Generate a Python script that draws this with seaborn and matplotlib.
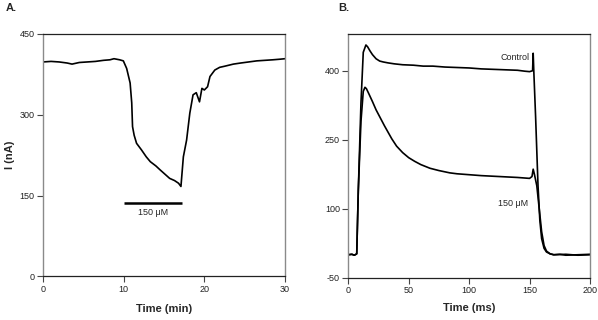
import numpy as np
import pandas as pd
import matplotlib
matplotlib.use("Agg")
import matplotlib.pyplot as plt
import seaborn as sns

# ---- Panel A data: current vs time (min)
time_min = [0, 1, 2, 3, 3.6, 4.5, 5.5, 6.5, 7.5, 8.3, 8.8, 9.5, 9.96, 10.37, 10.8,
            11.0, 11.1, 11.3, 11.6, 12.2, 12.8, 13.3, 14.0, 14.5, 15.1, 15.7, 16.3,
            16.8, 17.1, 17.4, 17.8, 18.2, 18.6, 19.0, 19.4, 19.7, 20.0, 20.4, 20.7,
            21.3, 21.9, 22.5, 23.6, 24.5, 25.5, 26.5, 27.5, 28.5, 29.3, 30]
current_nA = [398, 399, 398, 396, 394, 397, 398, 399, 401, 402, 404, 402, 400, 386, 359,
              322, 278, 262, 247, 235, 222, 213, 205, 198, 190, 182, 178,
              173, 167, 222, 253, 303, 337, 341, 324, 349, 346, 352, 371,
              383, 388, 390, 394, 396, 398, 400, 401, 402, 403, 404]
bar_start, bar_end, bar_level = 10.0, 17.2, 137
bar_label = "150 μM"

# ---- Panel B data: current vs time (ms)
time_ctrl = [0, 3, 5, 7, 8.3, 10.5, 12.4, 14.6, 16, 18, 20, 23, 26, 29, 33, 38, 45, 54,
             62, 70, 80, 90, 100, 110, 120, 130, 140, 146, 150, 152.5, 153, 153.5,
             155, 157, 158.5, 160, 162, 164, 167, 170, 175, 180, 190, 200]
curr_ctrl = [0, 1, -1, 2, 140, 330, 440, 456, 452, 443, 435, 426, 421, 419, 417, 415, 413, 412,
             410, 410, 408, 407, 406, 404, 403, 402, 401, 399, 398, 400, 438, 400,
             300, 150, 75, 35, 14, 6, 2, 0, 1, -1, 0, 1]
time_drug = [0, 3, 5, 7, 8.3, 10.5, 12.4, 13.8, 15, 17, 20, 23, 26.2, 30, 33, 36, 40, 45, 50,
             55, 60, 67.6, 75, 84, 90, 100, 110, 125, 140, 150, 152, 153, 154,
             156, 158, 160, 162, 164, 167, 170, 180, 190, 200]
curr_drug = [0, 1, -1, 2, 140, 290, 355, 364, 361, 350, 333, 315, 299, 280, 266, 252, 236, 222, 211,
             203, 196, 188, 183, 178, 176, 174, 172, 170, 168, 166, 170, 186, 175,
             150, 100, 50, 20, 8, 2, 0, 1, -1, 0]

dfA = pd.DataFrame({"t": time_min, "i": current_nA})
dfC = pd.DataFrame({"t": time_ctrl, "i": curr_ctrl})
dfD = pd.DataFrame({"t": time_drug, "i": curr_drug})

sns.set_theme(style="white")
plt.rcParams["font.family"] = ["Liberation Sans Narrow", "Liberation Sans", "DejaVu Sans"]
plt.rcParams["axes.unicode_minus"] = False

fig = plt.figure(figsize=(5.98, 3.2), dpi=100)
axA = fig.add_axes([0.0719, 0.136, 0.4047, 0.758])
axB = fig.add_axes([0.5824, 0.132, 0.4042, 0.762])

sns.lineplot(data=dfA, x="t", y="i", ax=axA, color="black", lw=1.2,
             estimator=None, sort=False)
axA.plot([bar_start, bar_end], [bar_level, bar_level], color="black", lw=1.8,
         solid_capstyle="butt")
axA.text((bar_start + bar_end) / 2, 119, bar_label, ha="center", va="center",
         fontsize=6.5)
axA.set_xlim(0, 30)
axA.set_ylim(0, 450)
axA.set_xticks([0, 10, 20, 30])
axA.set_yticks([0, 150, 300, 450])

sns.lineplot(data=dfC, x="t", y="i", ax=axB, color="black", lw=1.2,
             estimator=None, sort=False)
sns.lineplot(data=dfD, x="t", y="i", ax=axB, color="black", lw=1.2,
             estimator=None, sort=False)
axB.text(150, 428, "Control", ha="right", va="center", fontsize=6.5)
axB.text(136, 112, "150 μM", ha="center", va="center", fontsize=6.5)
axB.set_xlim(0, 200)
axB.set_ylim(-50, 480)
axB.set_xticks([0, 50, 100, 150, 200])
axB.set_yticks([-50, 100, 250, 400])

for ax in (axA, axB):
    ax.set_ylabel("")
    ax.tick_params(axis="both", which="both", direction="out", length=4, width=0.8,
                   color="#444444", labelsize=6.5, pad=2, left=True, bottom=True,
                   labelcolor="#222222")
    for s in ("top", "bottom"):
        ax.spines[s].set_color("#222222")
        ax.spines[s].set_linewidth(0.9)
    for s in ("left", "right"):
        ax.spines[s].set_color("#8a8a8a")
        ax.spines[s].set_linewidth(1.0)
    ax.set_facecolor("white")

axA.set_xlabel("Time (min)", fontsize=8, fontweight="bold", family="Liberation Sans",
               labelpad=7)
axB.set_xlabel("Time (ms)", fontsize=8, fontweight="bold", family="Liberation Sans",
               labelpad=6)
fig.text(0.016, 0.515, "I (nA)", rotation=90, ha="center", va="center",
         fontsize=8, fontweight="bold", family="Liberation Sans")
fig.text(0.010, 0.992, "A.", ha="left", va="top", fontsize=8, fontweight="bold",
         family="Liberation Sans")
fig.text(0.565, 0.992, "B.", ha="left", va="top", fontsize=8, fontweight="bold",
         family="Liberation Sans")

fig.savefig("out.png", dpi=100, facecolor="white")
